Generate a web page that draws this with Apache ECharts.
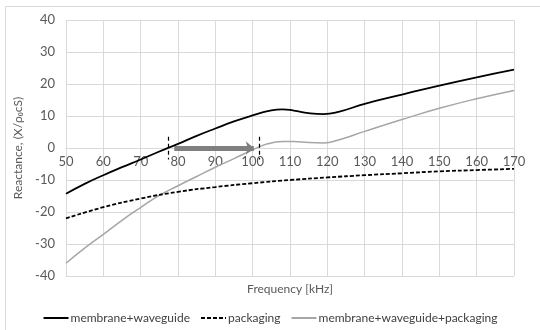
<!DOCTYPE html>
<html>
<head>
<meta charset="utf-8">
<script src="https://cdn.jsdelivr.net/npm/echarts@6/dist/echarts.min.js"></script>
<style>
  html, body { margin: 0; padding: 0; background: #fff; }
  #chart { width: 540px; height: 330px; }
</style>
</head>
<body>
<div id="chart"></div>
<script>
// Frequency sweep (kHz) and reactance values for each configuration
const freqMW = [50, 55, 60, 65, 70, 75, 80, 85, 90, 95, 100, 104, 108, 111, 115, 119, 123, 130, 140, 150, 160, 170];
const reactMW = [-14.3, -11.2, -8.5, -6.0, -3.6, -1.1, 1.3, 3.8, 6.1, 8.3, 10.2, 11.5, 12.1, 11.7, 10.9, 10.6, 11.3, 13.8, 16.7, 19.5, 22.1, 24.5];

const freqPkg = [50, 60, 70, 80, 90, 100, 110, 120, 130, 140, 150, 160, 170];
const reactPkg = [-22.0, -18.5, -15.8, -13.7, -12.2, -11.0, -10.0, -9.2, -8.5, -7.9, -7.3, -6.9, -6.5];

const freqAll = [50, 55, 60, 65, 70, 75, 80, 85, 90, 95, 100, 104, 108, 111, 115, 119, 123, 130, 140, 150, 160, 170];
const reactAll = [-36.0, -31.3, -27.0, -22.6, -18.6, -14.8, -11.8, -8.9, -6.0, -3.3, -0.6, 1.3, 2.0, 2.0, 1.7, 1.6, 2.5, 5.2, 8.9, 12.4, 15.4, 18.0];

const seriesNames = ['membrane+waveguide', 'packaging', 'membrane+waveguide+packaging'];

// Resonance shift annotation: zero-crossing markers and arrow span
const markerFreqs = [77.4, 101.8];
const markerSpan = [-3.6, 3.5];
const arrowSpan = [79, 100.3];

const pairs = (xs, ys) => xs.map((x, i) => [x, ys[i]]);

const FONT = 'Lato, "Liberation Sans", sans-serif';
const GRID = { left: 66, right: 26, top: 20, bottom: 54 };
const Y_MIN = -40, Y_MAX = 40;
const plotHeight = 330 - GRID.top - GRID.bottom;
// lift the frequency axis so it runs along the zero reactance line
const xAxisOffset = -plotHeight * (0 - Y_MIN) / (Y_MAX - Y_MIN);

const chart = echarts.init(document.getElementById('chart'), null, { renderer: 'canvas' });

chart.setOption({
  animation: false,
  backgroundColor: '#ffffff',
  textStyle: { fontFamily: FONT },
  grid: GRID,
  xAxis: {
    type: 'value',
    min: 50, max: 170, interval: 10,
    offset: xAxisOffset,
    axisLine: { show: true, onZero: false, lineStyle: { color: '#d9d9d9' } },
    axisTick: { show: false },
    axisLabel: { color: '#595959', fontSize: 13, margin: 7, fontFamily: FONT },
    splitLine: { show: true, lineStyle: { color: '#d9d9d9', width: 1 } }
  },
  yAxis: {
    type: 'value',
    min: Y_MIN, max: Y_MAX, interval: 10,
    name: 'Reactance, (X/ρ₀cS)',
    nameLocation: 'middle',
    nameGap: 38,
    nameTextStyle: { color: '#595959', fontSize: 12, fontFamily: FONT },
    axisLine: { show: false },
    axisTick: { show: false },
    axisLabel: { color: '#595959', fontSize: 13, margin: 11, fontFamily: FONT },
    splitLine: { show: true, lineStyle: { color: '#d9d9d9', width: 1 } }
  },
  legend: {
    bottom: 1,
    left: 'center',
    itemWidth: 25,
    itemHeight: 10,
    itemGap: 10,
    itemStyle: { opacity: 0 },
    textStyle: { color: '#404040', fontSize: 12, fontFamily: FONT, padding: [0, 0, 0, -3] },
    data: seriesNames
  },
  graphic: [
    {
      type: 'rect',
      shape: { x: 5.5, y: 6.5, width: 700, height: 500 },
      style: { fill: 'none', stroke: '#d9d9d9', lineWidth: 1 },
      silent: true
    },
    {
      type: 'text',
      x: 290, y: 289,
      style: { text: 'Frequency [kHz]', fill: '#595959', font: '12px ' + FONT, align: 'center', verticalAlign: 'middle' }
    }
  ],
  series: [
    {
      name: seriesNames[0],
      type: 'line',
      data: pairs(freqMW, reactMW),
      smooth: true,
      symbol: 'none',
      lineStyle: { color: '#000000', width: 1.8 },
      itemStyle: { color: '#000000' },
      z: 4,
      markLine: {
        silent: true,
        symbol: ['none', 'none'],
        label: { show: false },
        lineStyle: { color: '#000000', type: [4, 3], width: 1.2 },
        data: markerFreqs.map(f => [{ coord: [f, markerSpan[1]] }, { coord: [f, markerSpan[0]] }])
      }
    },
    {
      name: seriesNames[1],
      type: 'line',
      data: pairs(freqPkg, reactPkg),
      smooth: true,
      symbol: 'none',
      lineStyle: { color: '#000000', width: 1.8, type: [4, 2] },
      itemStyle: { color: '#000000' },
      z: 3
    },
    {
      name: seriesNames[2],
      type: 'line',
      data: pairs(freqAll, reactAll),
      smooth: true,
      symbol: 'none',
      lineStyle: { color: '#a6a6a6', width: 1.5 },
      itemStyle: { color: '#a6a6a6' },
      z: 2,
      markLine: {
        silent: true,
        symbol: ['none', 'arrow'],
        symbolSize: [10, 8],
        label: { show: false },
        lineStyle: { color: '#7f7f7f', type: 'solid', width: 5 },
        data: [[{ coord: [arrowSpan[0], 0] }, { coord: [arrowSpan[1], 0] }]]
      }
    }
  ]
});
</script>
</body>
</html>
